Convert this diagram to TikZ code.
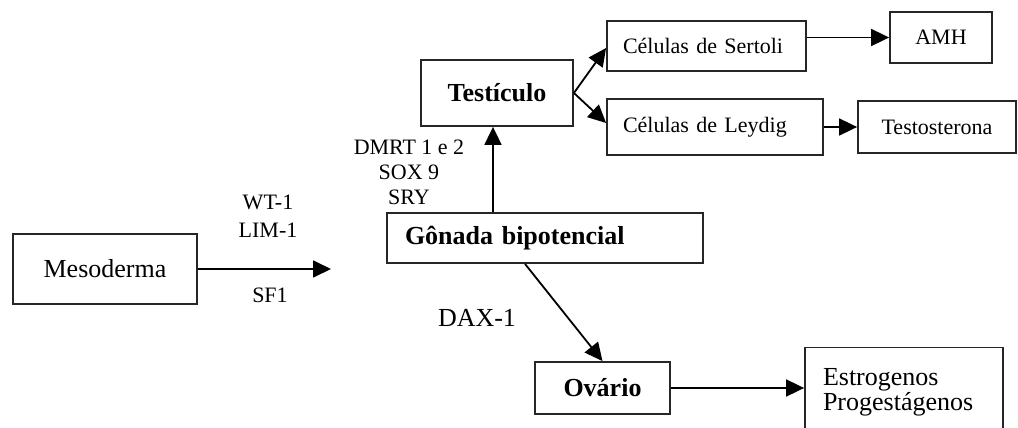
\documentclass[tikz,border=0pt]{standalone}
\usepackage{fontspec}
\setmainfont{Liberation Serif}
\usetikzlibrary{arrows.meta}
\begin{document}
\begin{tikzpicture}[x=1pt,y=-1pt,
  box/.style={draw=black!85,line width=1.8pt,inner sep=0pt,font=\fontsize{22}{25}\selectfont},
  bigbox/.style={box,font=\fontsize{26}{25}\selectfont},
  arr/.style={line width=1.8pt,-{Triangle[length=18pt,width=17pt]}},
  lab/.style={inner sep=0pt,font=\fontsize{22}{25}\selectfont,align=center},
  biglab/.style={inner sep=0pt,font=\fontsize{26}{25}\selectfont,align=center}]
\useasboundingbox (0,0) rectangle (1018,428);
\clip (0,0) rectangle (1018,428);
\fill[white] (0,0) rectangle (1018,428);
% boxes
\node[bigbox,minimum width=184pt,minimum height=70pt] (meso) at (105,269) {Mesoderma};
\node[bigbox,minimum width=316pt,minimum height=50pt,text width=280pt,inner xsep=18pt,align=left,font=\fontsize{26}{25}\selectfont\bfseries] (gonada) at (545,238) {Gônada bipotencial};
\node[bigbox,minimum width=152pt,minimum height=66pt,font=\fontsize{26}{25}\selectfont\bfseries] (testiculo) at (497,93) {Testículo};
\node[bigbox,minimum width=135pt,minimum height=52pt,font=\fontsize{26}{25}\selectfont\bfseries] (ovario) at (602.5,388) {Ovário};
\node[box,minimum width=199pt,minimum height=50pt,text width=167pt,inner xsep=16pt,align=left] (sertoli) at (706.5,46) {Células de Sertoli};
\node[box,minimum width=216pt,minimum height=56pt,text width=184pt,inner xsep=16pt,align=left] (leydig) at (715,127) {Células de Leydig};
\node[box,minimum width=102pt,minimum height=51pt] (amh) at (941,37.5) {AMH};
\node[box,minimum width=158pt,minimum height=52pt] (testo) at (937,127) {Testosterona};
\node[bigbox,minimum width=198pt,minimum height=90pt,text width=162pt,inner xsep=18pt,align=left] (estro) at (904,392.5) {Estrogenos\\Progestágenos};
% labels
\node[lab,font=\fontsize{22}{28}\selectfont] (wt) at (268,216) {WT-1\\LIM-1};
\node[lab] (sf) at (270,295) {SF1};
\node[lab] (dmrt) at (409,172) {DMRT 1 e 2\\SOX 9\\SRY};
\node[biglab] (dax) at (477,318) {DAX-1};
% connectors
\coordinate (mesoend) at (331,269);
\draw[arr] (meso.east) -- (mesoend);
\draw[arr] ([xshift=-4pt]testiculo.south |- gonada.north) -- ([xshift=-4pt]testiculo.south);
\draw[arr] (testiculo.east) -- ([yshift=-2pt]sertoli.west);
\draw[arr] (testiculo.east) -- ([yshift=4pt]leydig.west);
\draw[arr] (amh.west -| sertoli.east) -- (amh.west);
\draw[arr] (leydig.east) -- (testo.west);
\draw[arr] ([xshift=-20pt]gonada.south) -- (ovario.north);
\draw[arr] (ovario.east) -- (ovario.east -| estro.west);
\end{tikzpicture}
\end{document}
